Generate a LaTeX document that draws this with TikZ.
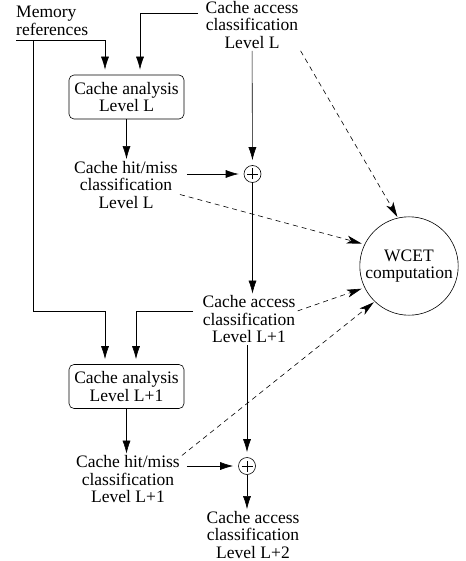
\documentclass[tikz,border=0pt]{standalone}
\usepackage{fontspec}
\setmainfont{Liberation Serif}
\usepackage{tikz}
\usetikzlibrary{arrows.meta}
\usetikzlibrary{positioning}
\tikzstyle{flow}=[draw, line width=0.6pt, -{Latex[length=13pt,width=8pt]}]
\tikzstyle{contrib}=[draw, line width=0.6pt, dash pattern=on 5pt off 4pt, -{Stealth[length=15pt,width=8pt,inset=4pt]}]
\tikzstyle{level_text}=[align=center, inner sep=2pt, font=\fontsize{17.5}{17.5}\selectfont]
\tikzstyle{analysis_box}=[level_text, draw, line width=0.6pt, rounded corners=5pt, minimum width=115pt, minimum height=44pt]
\tikzstyle{sum_node}=[circle, draw, line width=0.6pt, minimum size=17pt, inner sep=0pt, sum_cross]
\tikzstyle{sum_cross}=[
    {path picture={
        \draw[black, line width=0.6pt]
        ([xshift=-5.5pt]path picture bounding box.center) --
        ([xshift=5.5pt]path picture bounding box.center)
        ([yshift=-5.5pt]path picture bounding box.center) --
        ([yshift=5.5pt]path picture bounding box.center);
      }
    }
]

\begin{document}
\begin{tikzpicture}[x=1pt, y=-1pt]
\useasboundingbox (0,0) rectangle (465,561);
\node[level_text, align=left, anchor=west] (memref) at (14,21){Memory\\references};
\node[level_text] (acc0) at (252,25){Cache access\\classification\\Level L};
\node[analysis_box] (ana0) at (126.5,97){Cache analysis\\Level L};
\node[level_text] (hm0) at (126,185){Cache hit/miss\\classification\\Level L};
\node[sum_node] (plus0) at (252.5,174){};
\node[circle, draw, line width=0.6pt, minimum size=97pt, level_text] (wcet) at (409,266){WCET\\computation};
\node[level_text] (acc1) at (249,319.5){Cache access\\classification\\Level L+1};
\node[analysis_box] (ana1) at (126.5,386.5){Cache analysis\\Level L+1};
\node[level_text] (hm1) at (128,479.5){Cache hit/miss\\classification\\Level L+1};
\node[sum_node] (plus1) at (247,466){};
\node[level_text] (acc2) at (253,535){Cache access\\classification\\Level L+2};
\coordinate (memout) at (16,40);
\coordinate (memsplit) at (33,40);
\coordinate (acc0out) at (198,13);
\coordinate (acc1out) at (193,311);
% level L
\draw[flow, shorten >=5pt](memout) -| ([xshift=-21.5pt]ana0.north);
\draw[flow, shorten >=5pt](acc0out) -| ([xshift=13.5pt]ana0.north);
\draw[flow](ana0) -- (ana0 |- hm0.north);
\draw[flow, shorten >=5pt](acc0) -- (plus0);
\draw[flow, shorten >=5pt]([xshift=7pt]plus0 -| hm0.east) -- (plus0);
\draw[flow](plus0) -- (plus0 |- acc1.north);
% level L+1
\draw[flow, shorten >=5pt](memsplit) |- (acc1out -| memsplit) -| ([xshift=-21.5pt]ana1.north);
\draw[flow, shorten >=5pt](acc1out) -| ([xshift=9.5pt]ana1.north);
\draw[flow](ana1) -- (ana1 |- hm1.north);
\draw[flow, shorten >=5pt](acc1.south -| plus1) -- (plus1);
\draw[flow, shorten >=5pt]([xshift=5pt]plus1 -| hm1.east) -- (plus1);
\draw[flow](plus1) -- (plus1 |- acc2.north);
% WCET
\draw[contrib, shorten >=1pt](acc0.south east) -- (wcet.103);
\draw[contrib, shorten >=3pt](hm0.-10) -- (wcet.154);
\draw[contrib, shorten >=3pt](acc1.10) -- (wcet.206);
\draw[contrib, shorten >=1pt](hm1.24) -- (wcet.226);
\end{tikzpicture}
\end{document}
